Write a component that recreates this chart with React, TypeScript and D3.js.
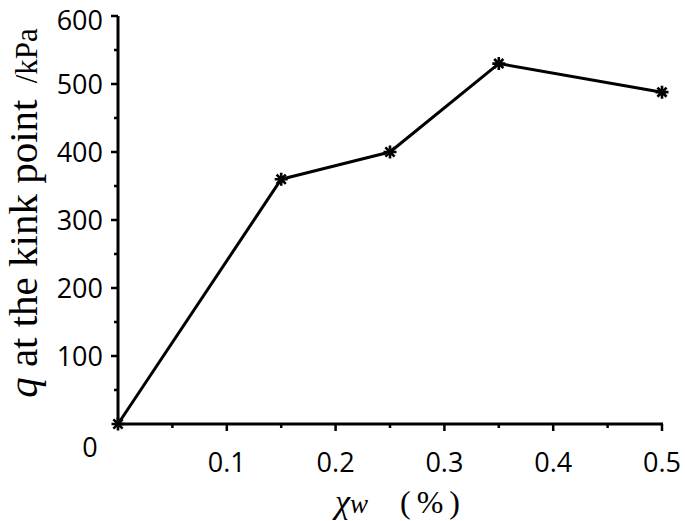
import React from 'react';
import * as d3 from 'd3';

// Data
const ratios = [0, 0.15, 0.25, 0.35, 0.5];
const kinkLoad = [0, 360, 400, 530, 488];
const xTicks = [0.1, 0.2, 0.3, 0.4, 0.5];
const yTicks = [100, 200, 300, 400, 500, 600];
const xMinor = [0.05, 0.15, 0.25, 0.35, 0.45];
const yMinor = [50, 150, 250, 350, 450, 550];

const width = 685;
const height = 521;
const left = 118;
const right = 662;
const top = 16;
const bottom = 424;

const tickFont = "'Open Sans', sans-serif";
const serif = "'Liberation Serif', 'DejaVu Serif', serif";

export default function App() {
  const x = d3.scaleLinear().domain([0, 0.5]).range([left, right]);
  const y = d3.scaleLinear().domain([0, 600]).range([bottom, top]);

  const line = d3.line<number>()
    .x((d, i) => x(ratios[i]))
    .y(d => y(d));

  // 8-armed asterisk
  const r = 6.5;
  const star = d3.range(4).map(k => {
    const a = (k * Math.PI) / 4;
    return `M${-r * Math.cos(a)},${-r * Math.sin(a)}L${r * Math.cos(a)},${r * Math.sin(a)}`;
  }).join('');

  return (
    <svg width={width} height={height} style={{ position: 'absolute', left: 0, top: 0, background: '#fff' }}>
      {/* axes */}
      <line x1={left} x2={left} y1={top} y2={bottom} stroke="#000" strokeWidth={3} />
      <line x1={left} x2={right + 1} y1={bottom} y2={bottom} stroke="#000" strokeWidth={3} />

      {yTicks.map(t => (
        <g key={'y' + t}>
          <line x1={left - 7} x2={left} y1={y(t)} y2={y(t)} stroke="#000" strokeWidth={2.5} />
          <text x={left - 15} y={y(t)} dy={t === 600 ? '0.5em' : '0.36em'} textAnchor="end" fontFamily={tickFont} fontSize={27}>{t}</text>
        </g>
      ))}
      {yMinor.map(t => (
        <line key={'ym' + t} x1={left - 4} x2={left} y1={y(t)} y2={y(t)} stroke="#000" strokeWidth={2.5} />
      ))}
      {xTicks.map(t => (
        <g key={'x' + t}>
          <line x1={x(t)} x2={x(t)} y1={bottom} y2={bottom + 7} stroke="#000" strokeWidth={2.5} />
          <text x={x(t)} y={bottom + 48} textAnchor="middle" fontFamily={tickFont} fontSize={27}>{t}</text>
        </g>
      ))}
      {xMinor.map(t => (
        <line key={'xm' + t} x1={x(t)} x2={x(t)} y1={bottom} y2={bottom + 4} stroke="#000" strokeWidth={2.5} />
      ))}
      <text x={90} y={bottom + 33} textAnchor="middle" fontFamily={tickFont} fontSize={27}>0</text>

      {/* series */}
      <path d={line(kinkLoad) || ''} fill="none" stroke="#000" strokeWidth={3} strokeLinejoin="round" />
      {kinkLoad.map((v, i) => (
        <path key={'p' + i} d={star} transform={`translate(${x(ratios[i])},${y(v)})`} stroke="#000" strokeWidth={2.6} />
      ))}

      {/* titles */}
      <text transform="translate(37,213) rotate(-90)" textAnchor="middle" fontFamily={serif} fontSize={41}>
        <tspan fontStyle="italic">q</tspan>
        <tspan> at the kink point </tspan>
        <tspan fontSize={31} dx={6}>/kPa</tspan>
      </text>
      <text x={335} y={513} fontFamily={serif} fontSize={32}>
        <tspan fontStyle="italic" fontSize={34}>χ</tspan>
        <tspan fontStyle="italic" fontSize={27}>w</tspan>
        <tspan x={400} letterSpacing={6}>(%)</tspan>
      </text>
    </svg>
  );
}
